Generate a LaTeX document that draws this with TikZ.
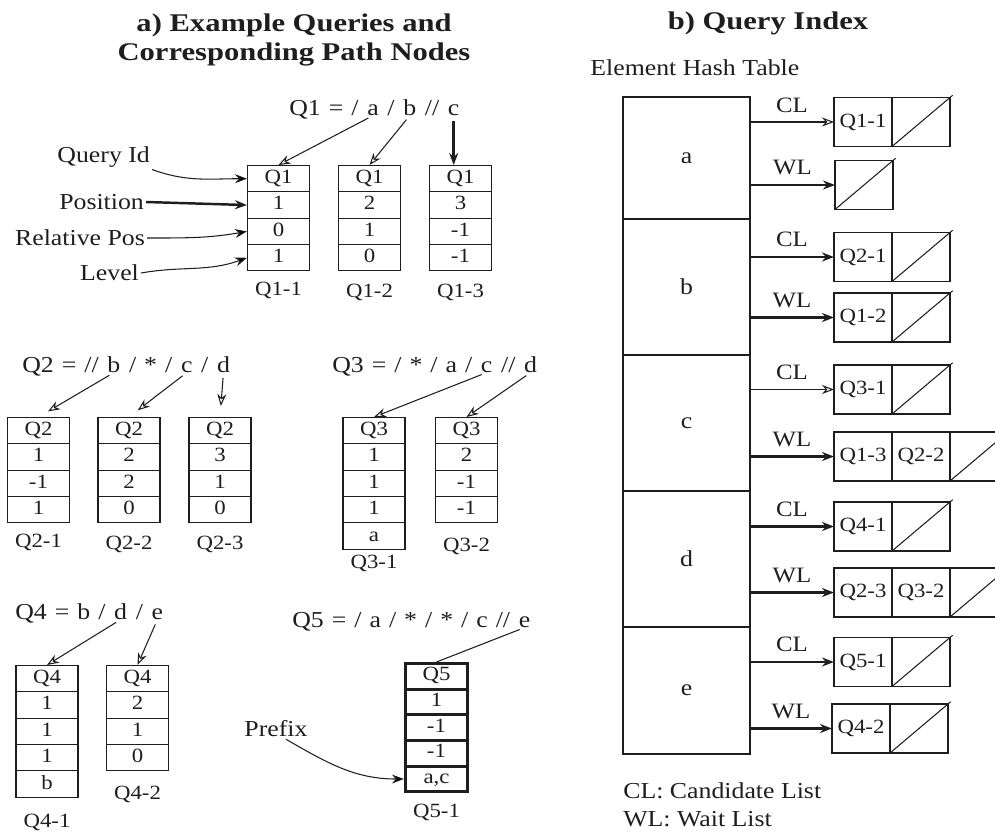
\documentclass[tikz,border=0pt]{standalone}
\usepackage{fontspec}
\setmainfont{Liberation Serif}[FakeStretch=1.13]
\newfontfamily\headfont{Liberation Serif}[FakeStretch=1.2]
\usetikzlibrary{arrows.meta,positioning,shapes.multipart}
\definecolor{ink}{HTML}{1E1E1E}
\newcommand{\qs}{\kern0.35em}
\newcommand{\cs}{\rule[-4.4pt]{0pt}{14.4pt}}
\newcommand{\csq}{\rule[-3.8pt]{0pt}{12.8pt}}
\tikzset{
  every node/.style={font=\fontsize{13}{15}\selectfont, text=ink},
  ttl/.style={font=\headfont\bfseries\fontsize{14.5}{17}\selectfont, align=center},
  lbl/.style={inner sep=1pt},
  tok/.style={inner sep=0pt, anchor=base west},
  pnode/.style={draw=ink, line width=0.6pt, rectangle split, rectangle split parts=#1,
                minimum width=1.24cm, inner xsep=1pt, inner ysep=0pt,
                font=\fontsize{11.5}{13}\selectfont, anchor=north},
  boldnode/.style={line width=1.8pt},
  idlbl/.style={font=\fontsize{11.5}{13}\selectfont, inner sep=1pt},
  hcell/.style={draw=ink, line width=0.8pt, minimum width=2.54cm, outer sep=0pt},
  lcell/.style={draw=ink, line width=0.8pt, minimum width=1.16cm, minimum height=0.98cm,
                outer sep=0pt, inner sep=0pt, font=\fontsize{11.5}{13}\selectfont},
  diag/.style={draw=ink, line width=0.6pt, shorten >=-2pt},
  nilcell/.style={lcell, append after command={(\tikzlastnode.south west) edge[diag] (\tikzlastnode.north east)}},
  oarr/.style={-{Stealth[open, length=2.4mm, width=1.8mm]}, line width=0.6pt, draw=ink},
  farr/.style={-{Stealth[length=2.4mm, width=1.8mm]}, line width=1.4pt, draw=ink},
  carr/.style={-{Stealth[length=2.4mm, width=1.8mm]}, line width=0.6pt, draw=ink},
  lst/.style={font=\fontsize{12.5}{14}\selectfont, inner sep=1pt},
}

\begin{document}
\begin{tikzpicture}[x=0.02cm, y=-0.02cm]
\useasboundingbox (0,0) rectangle (995,832);
\clip (0,0) rectangle (995,832);

% --- titles ---
\node[ttl] (ttla) at (294,40) {a) Example Queries and\\Corresponding Path Nodes};
\node[ttl, anchor=base] (ttlb) at (768,29) {b) Query Index};

% --- Q1 ---
\node[tok] (f1) at (289,115) {Q1\qs=\qs/\qs};
\node[tok] (f1a) at (f1.base east) {a};
\node[tok] (f1s1) at (f1a.base east) {\qs/\qs};
\node[tok] (f1b) at (f1s1.base east) {b};
\node[tok] (f1s2) at (f1b.base east) {\qs//\qs};
\node[tok] (f1c) at (f1s2.base east) {c};

\node[pnode=4] (q11) at (278.5,165) {\cs Q1\nodepart{two}\cs 1\nodepart{three}\cs 0\nodepart{four}\cs 1};
\node[pnode=4] (q12) at (369.5,165) {\cs Q1\nodepart{two}\cs 2\nodepart{three}\cs 1\nodepart{four}\cs 0};
\node[pnode=4] (q13) at (460.5,165) {\cs Q1\nodepart{two}\cs 3\nodepart{three}\cs -1\nodepart{four}\cs -1};
\node[idlbl, below=5pt of q11] (n11) {Q1-1};
\node[idlbl, below=6pt of q12] (n12) {Q1-2};
\node[idlbl, below=6pt of q13] (n13) {Q1-3};

\draw[oarr, shorten <=3pt] (f1a.south) -- (q11.north);
\draw[oarr, shorten <=3pt] (f1b.south) -- (q12.north);
\draw[farr, shorten <=3pt] (f1c.south) -- (f1c.south |- q13.north);

% field names
\node[lbl, anchor=east] (qid) at (152,157) {Query Id};
\node[lbl, anchor=east] (pos) at (146,202) {Position};
\node[lbl, anchor=east] (rel) at (147,238) {Relative Pos};
\node[lbl, anchor=east] (lev) at (141,273) {Level};
\draw[carr] (qid.south east) to[out=-20, in=180] (q11.text west);
\draw[farr] (pos.east) -- (q11.two west);
\draw[carr] (rel.east) to[out=0, in=190] (q11.three west);
\draw[carr] (lev.east) to[out=10, in=200] (q11.four west);

% --- Q2 ---
\node[tok] (f2) at (22,372) {Q2\qs=\qs//\qs};
\node[tok] (f2b) at (f2.base east) {b};
\node[tok] (f2s1) at (f2b.base east) {\qs/\qs*\qs/\qs};
\node[tok] (f2c) at (f2s1.base east) {c};
\node[tok] (f2s2) at (f2c.base east) {\qs/\qs};
\node[tok] (f2d) at (f2s2.base east) {d};

\node[pnode=4] (q21) at (38.5,417) {\cs Q2\nodepart{two}\cs 1\nodepart{three}\cs -1\nodepart{four}\cs 1};
\node[pnode=4] (q22) at (129,417) {\cs Q2\nodepart{two}\cs 2\nodepart{three}\cs 2\nodepart{four}\cs 0};
\node[pnode=4] (q23) at (220,417) {\cs Q2\nodepart{two}\cs 3\nodepart{three}\cs 1\nodepart{four}\cs 0};
\node[idlbl, below=5pt of q21] (n21) {Q2-1};
\node[idlbl, below=6pt of q22] (n22) {Q2-2};
\node[idlbl, below=6pt of q23] (n23) {Q2-3};

\draw[oarr, shorten <=3pt, shorten >=0.22cm] (f2b.south) -- (q21.north);
\draw[oarr, shorten <=3pt, shorten >=0.22cm] (f2c.south) -- (q22.north);
\draw[oarr, shorten <=3pt, shorten >=0.22cm] (f2d.south) -- (q23.north);

% --- Q3 ---
\node[tok] (f3) at (332,372) {Q3\qs=\qs/\qs*\qs/\qs a\qs/\qs};
\node[tok] (f3c) at (f3.base east) {c};
\node[tok] (f3s1) at (f3c.base east) {\qs//\qs};
\node[tok] (f3d) at (f3s1.base east) {d};

\node[pnode=5] (q31) at (374,417) {\cs Q3\nodepart{two}\cs 1\nodepart{three}\cs 1\nodepart{four}\cs 1\nodepart{five}\cs a};
\node[pnode=4] (q32) at (466.5,417) {\cs Q3\nodepart{two}\cs 2\nodepart{three}\cs -1\nodepart{four}\cs -1};
\node[idlbl, below=2pt of q31] (n31) {Q3-1};
\node[idlbl, below=7pt of q32] (n32) {Q3-2};

\draw[oarr, shorten <=3pt] (f3c.south) -- (q31.north);
\draw[oarr, shorten <=3pt] (f3d.south) -- (q32.north);

% --- Q4 ---
\node[tok] (f4) at (15,619) {Q4\qs=\qs b\qs/\qs};
\node[tok] (f4d) at (f4.base east) {d};
\node[tok] (f4s1) at (f4d.base east) {\qs/\qs};
\node[tok] (f4e) at (f4s1.base east) {e};

\node[pnode=5] (q41) at (47,665) {\cs Q4\nodepart{two}\cs 1\nodepart{three}\cs 1\nodepart{four}\cs 1\nodepart{five}\cs b};
\node[pnode=4] (q42) at (137.5,665) {\cs Q4\nodepart{two}\cs 2\nodepart{three}\cs 1\nodepart{four}\cs 0};
\node[idlbl, below=8pt of q41] (n41) {Q4-1};
\node[idlbl, below=7pt of q42] (n42) {Q4-2};

\draw[oarr, shorten <=3pt] (f4d.south) -- (q41.north);
\draw[oarr, shorten <=3pt] (f4e.south) -- (q42.north);

% --- Q5 ---
\node[tok] (f5) at (292,627) {Q5\qs=\qs/\qs a\qs/\qs*\qs/\qs*\qs/\qs c\qs//\qs};
\node[tok] (f5e) at (f5.base east) {e};

\node[pnode=5, boldnode] (q51) at (436.5,662) {\csq Q5\nodepart{two}\csq 1\nodepart{three}\csq -1\nodepart{four}\csq -1\nodepart{five}\csq a,c};
\node[idlbl, below=5pt of q51] (n51) {Q5-1};
\draw[line width=0.6pt, draw=ink, shorten <=3pt] (f5e.south) -- (q51.north);

\node[lbl] (pfx) at (276,729) {Prefix};
\draw[carr] ([xshift=0.2cm]pfx.south) to[out=-30, in=180] (q51.five west);

% --- b) element hash table ---
\node[anchor=base west, inner sep=0pt] (eht) at (590,75) {Element Hash Table};
\node[hcell, minimum height=2.44cm, anchor=north] (ha) at (686.5,97) {a};
\node[hcell, minimum height=2.72cm, below=0pt of ha] (hb) {b};
\node[hcell, minimum height=2.72cm, below=0pt of hb] (hc) {c};
\node[hcell, minimum height=2.72cm, below=0pt of hc] (hd) {d};
\node[hcell, minimum height=2.54cm, below=0pt of hd] (he) {e};

% lists
\node[lcell] (acl1) at (863,122) {Q1-1};
\node[nilcell, right=0pt of acl1] (acl2) {};
\node[nilcell] (awl1) at (864,185) {};
\node[lcell] (bcl1) at (863,257) {Q2-1};
\node[nilcell, right=0pt of bcl1] (bcl2) {};
\node[lcell] (bwl1) at (863,317.5) {Q1-2};
\node[nilcell, right=0pt of bwl1] (bwl2) {};
\node[lcell] (ccl1) at (863,389.5) {Q3-1};
\node[nilcell, right=0pt of ccl1] (ccl2) {};
\node[lcell] (cwl1) at (863,456.5) {Q1-3};
\node[lcell, right=0pt of cwl1] (cwl2) {Q2-2};
\node[nilcell, right=0pt of cwl2] (cwl3) {};
\node[lcell] (dcl1) at (863,526.5) {Q4-1};
\node[nilcell, right=0pt of dcl1] (dcl2) {};
\node[lcell] (dwl1) at (863,592.5) {Q2-3};
\node[lcell, right=0pt of dwl1] (dwl2) {Q3-2};
\node[nilcell, right=0pt of dwl2] (dwl3) {};
\node[lcell] (ecl1) at (863,662) {Q5-1};
\node[nilcell, right=0pt of ecl1] (ecl2) {};
\node[lcell] (ewl1) at (861,728.5) {Q4-2};
\node[nilcell, right=0pt of ewl1] (ewl2) {};

\draw[oarr] (ha.east |- acl1.west) -- (acl1.west) node[lst, midway, above=4pt] {CL};
\draw[farr] (ha.east |- awl1.west) -- (awl1.west) node[lst, midway, above=4pt] {WL};
\draw[farr] (hb.east |- bcl1.west) -- (bcl1.west) node[lst, midway, above=4pt] {CL};
\draw[farr] (hb.east |- bwl1.west) -- (bwl1.west) node[lst, midway, above=4pt] {WL};
\draw[oarr] (hc.east |- ccl1.west) -- (ccl1.west) node[lst, midway, above=4pt] {CL};
\draw[farr] (hc.east |- cwl1.west) -- (cwl1.west) node[lst, midway, above=4pt] {WL};
\draw[farr] (hd.east |- dcl1.west) -- (dcl1.west) node[lst, midway, above=4pt] {CL};
\draw[farr] (hd.east |- dwl1.west) -- (dwl1.west) node[lst, midway, above=4pt] {WL};
\draw[farr] (he.east |- ecl1.west) -- (ecl1.west) node[lst, midway, above=4pt] {CL};
\draw[farr] (he.east |- ewl1.west) -- (ewl1.west) node[lst, midway, above=4pt] {WL};

% legend
\node[anchor=base west, inner sep=0pt] (lgc) at (623,798) {CL: Candidate List};
\node[anchor=base west, inner sep=0pt] (lgw) at (623,826) {WL: Wait List};

\end{tikzpicture}
\end{document}
